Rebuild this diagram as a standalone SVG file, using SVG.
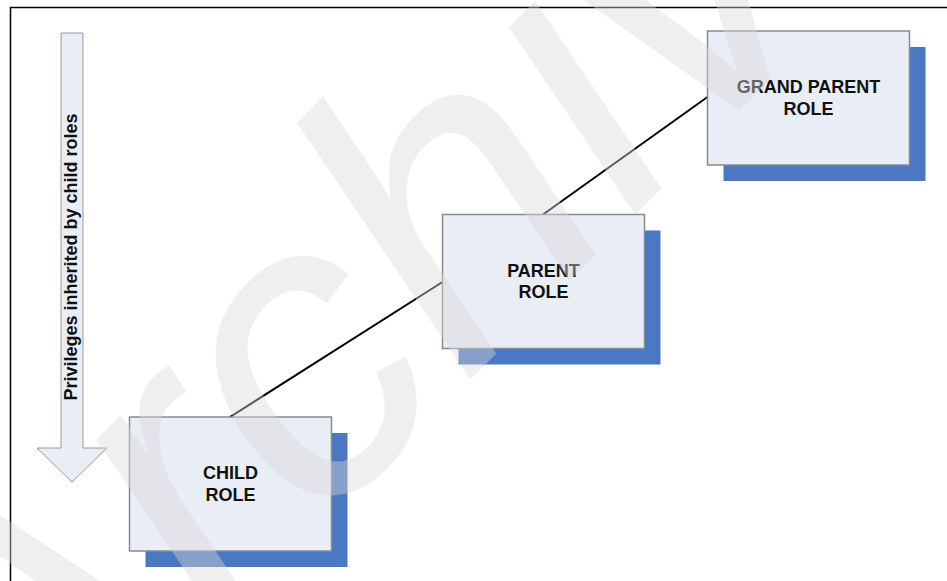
<svg xmlns="http://www.w3.org/2000/svg" width="947" height="581" viewBox="0 0 947 581">
  <style>
    .frame { fill: none; stroke: #000; stroke-width: 1.5; }
    .box { fill: #e9edf6; stroke: #8a8a8a; stroke-width: 1.5; }
    .shadow { fill: #4a78c2; }
    .label { font-family: "Liberation Sans", Arial, sans-serif; font-weight: bold; font-size: 18px; fill: #111; text-anchor: middle; }
    .link { stroke: #000; stroke-width: 2; fill: none; }
    .flow { fill: #e9edf6; stroke: #9a9a9a; stroke-width: 1; }
    .flow-label { font-family: "Liberation Sans", Arial, sans-serif; font-weight: bold; font-size: 18px; fill: #111; text-anchor: middle; }
    .mark { font-family: "Liberation Sans", Arial, sans-serif; font-style: italic; font-size: 420px; fill: #d8d8d8; fill-opacity: 0.42; }
  </style>

  <rect width="947" height="581" fill="#fff"/>
  <path class="frame" d="M10.5 581 V7.5 H947"/>

  <!-- inheritance direction arrow -->
  <g id="inherit-arrow">
    <path class="flow" d="M61 33 H83 V448 H107 L72 482 L37 448 H61 Z"/>
    <text class="flow-label" transform="translate(77 257) rotate(-90)">Privileges inherited by child roles</text>
  </g>

  <g id="connectors">
    <line class="link" x1="230" y1="417" x2="442.5" y2="282"/>
    <line class="link" x1="543" y1="214.5" x2="707.5" y2="97"/>
  </g>

  <g id="child-role">
    <rect class="shadow" x="145.5" y="433" width="202" height="134"/>
    <rect class="box" x="129.5" y="417" width="202" height="134"/>
    <text class="label" x="230.5" y="479">CHILD</text>
    <text class="label" x="230.5" y="500.5">ROLE</text>
  </g>

  <g id="parent-role">
    <rect class="shadow" x="458.5" y="230.5" width="202" height="134"/>
    <rect class="box" x="442.5" y="214.5" width="202" height="134"/>
    <text class="label" x="543.5" y="276.5">PARENT</text>
    <text class="label" x="543.5" y="298">ROLE</text>
  </g>

  <g id="grand-parent-role">
    <rect class="shadow" x="723.5" y="47" width="202" height="134"/>
    <rect class="box" x="707.5" y="31" width="202" height="134"/>
    <text class="label" x="808.5" y="93">GRAND PARENT</text>
    <text class="label" x="808.5" y="114.5">ROLE</text>
  </g>

  <!-- background watermark -->
  <g id="watermark">
    <text class="mark" transform="translate(20 830) rotate(-45)">Archive</text>
  </g>
</svg>
